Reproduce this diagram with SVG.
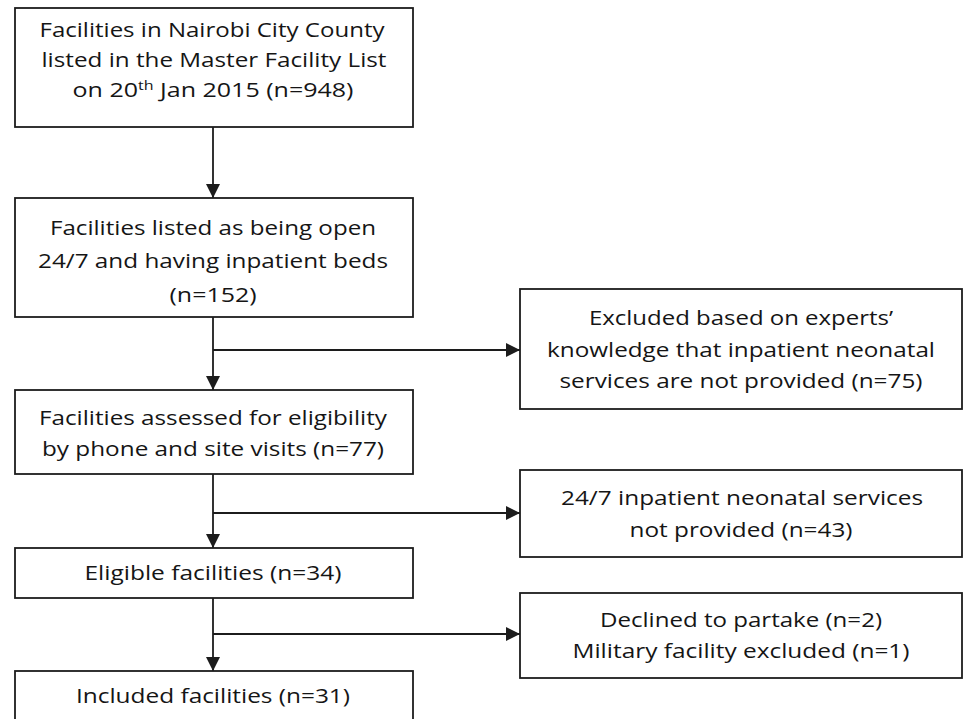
<svg xmlns="http://www.w3.org/2000/svg" width="965" height="719" viewBox="0 0 965 719">
<style>
.box{fill:#fff;stroke:#1c1c1c;stroke-width:1.8}
.t{font-family:"Open Sans","Noto Sans","Liberation Sans",sans-serif;font-size:19.5px;fill:#151515;text-anchor:middle}
.c{stroke:#1c1c1c;stroke-width:1.8;fill:none}
</style>
<defs>
<marker id="ah" markerWidth="15" markerHeight="15" refX="14" refY="7" orient="auto" markerUnits="userSpaceOnUse">
<path d="M0,0 L14,7 L0,14 Z" fill="#1c1c1c"/>
</marker>
</defs>
<rect width="965" height="719" fill="#fff"/>
<g id="connectors">
<line class="c" x1="213" y1="127" x2="213" y2="198" marker-end="url(#ah)"/>
<line class="c" x1="213" y1="317" x2="213" y2="390" marker-end="url(#ah)"/>
<line class="c" x1="213" y1="350" x2="520" y2="350" marker-end="url(#ah)"/>
<line class="c" x1="213" y1="474" x2="213" y2="548" marker-end="url(#ah)"/>
<line class="c" x1="213" y1="513" x2="520" y2="513" marker-end="url(#ah)"/>
<line class="c" x1="213" y1="598" x2="213" y2="671" marker-end="url(#ah)"/>
<line class="c" x1="213" y1="634" x2="520" y2="634" marker-end="url(#ah)"/>
</g>
<g id="n1">
<rect class="box" x="15" y="8" width="398" height="119"/>
<text class="t" x="212" y="37" textLength="345" lengthAdjust="spacingAndGlyphs">Facilities in Nairobi City County</text>
<text class="t" x="214" y="67" textLength="345" lengthAdjust="spacingAndGlyphs">listed in the Master Facility List</text>
<text class="t" x="213" y="97" textLength="281" lengthAdjust="spacingAndGlyphs">on 20<tspan font-size="12.5" dy="-7">th</tspan><tspan dy="7"> Jan 2015 (n=948)</tspan></text>
</g>
<g id="n2">
<rect class="box" x="15" y="198" width="398" height="119"/>
<text class="t" x="213" y="235" textLength="326" lengthAdjust="spacingAndGlyphs">Facilities listed as being open</text>
<text class="t" x="213" y="268" textLength="350" lengthAdjust="spacingAndGlyphs">24/7 and having inpatient beds</text>
<text class="t" x="213" y="302" textLength="87" lengthAdjust="spacingAndGlyphs">(n=152)</text>
</g>
<g id="n3">
<rect class="box" x="15" y="390" width="398" height="84"/>
<text class="t" x="213" y="425" textLength="348" lengthAdjust="spacingAndGlyphs">Facilities assessed for eligibility</text>
<text class="t" x="213" y="456" textLength="342" lengthAdjust="spacingAndGlyphs">by phone and site visits (n=77)</text>
</g>
<g id="n4">
<rect class="box" x="15" y="548" width="398" height="50"/>
<text class="t" x="213" y="580" textLength="257" lengthAdjust="spacingAndGlyphs">Eligible facilities (n=34)</text>
</g>
<g id="n5">
<rect class="box" x="15" y="671" width="398" height="70"/>
<text class="t" x="213" y="703" textLength="274" lengthAdjust="spacingAndGlyphs">Included facilities (n=31)</text>
</g>
<g id="r1">
<rect class="box" x="520" y="289" width="442" height="120"/>
<text class="t" x="741" y="325" textLength="304" lengthAdjust="spacingAndGlyphs">Excluded based on experts’</text>
<text class="t" x="741" y="357" textLength="388" lengthAdjust="spacingAndGlyphs">knowledge that inpatient neonatal</text>
<text class="t" x="741" y="388" textLength="363" lengthAdjust="spacingAndGlyphs">services are not provided (n=75)</text>
</g>
<g id="r2">
<rect class="box" x="520" y="470" width="442" height="87"/>
<text class="t" x="742" y="505" textLength="362" lengthAdjust="spacingAndGlyphs">24/7 inpatient neonatal services</text>
<text class="t" x="741" y="537" textLength="223" lengthAdjust="spacingAndGlyphs">not provided (n=43)</text>
</g>
<g id="r3">
<rect class="box" x="520" y="593" width="442" height="85"/>
<text class="t" x="741" y="627" textLength="282" lengthAdjust="spacingAndGlyphs">Declined to partake (n=2)</text>
<text class="t" x="741" y="658" textLength="337" lengthAdjust="spacingAndGlyphs">Military facility excluded (n=1)</text>
</g>
</svg>
